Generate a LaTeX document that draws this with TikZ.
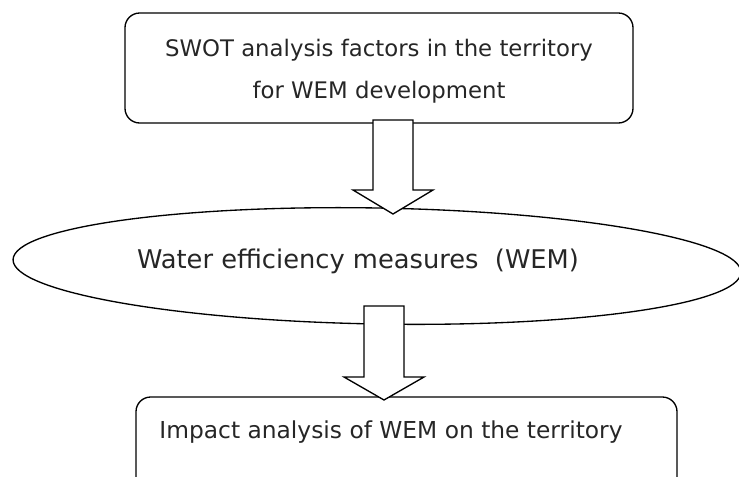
\documentclass[tikz,border=0pt]{standalone}
\usepackage{fontspec}
\setmainfont{DejaVu Sans}
\usetikzlibrary{shapes.geometric,calc}
\begin{document}
\begin{tikzpicture}[x=0.75pt,y=-0.75pt, line width=1pt,
  box/.style={draw, rounded corners=11pt, inner sep=0pt},
  blockarrow/.style={draw, fill=white, line join=miter},
  lbl/.style={text=black!85, align=center, inner sep=0pt}]
\clip (0,0) rectangle (739,476);
\node[box, minimum width=381pt, minimum height=82.5pt] (swot) at (379,68) {};
\node[lbl, font=\fontsize{17.1}{31.5}\selectfont] (swottext) at (379,71) {SWOT analysis factors in the territory\\for WEM development};
\node[draw, ellipse, minimum width=546pt, minimum height=87pt, rotate=-1, inner sep=0pt] (wem) at (377,266) {};
\node[lbl, font=\fontsize{19.3}{22}\selectfont] (wemtext) at (358,261) {Water efficiency measures\ \ (WEM)};
\node[box, minimum width=405.75pt, minimum height=84.75pt] (impact) at (406.5,453.5) {};
\node[lbl, font=\fontsize{17.5}{20}\selectfont] (impacttext) at (391,432) {Impact analysis of WEM on the territory};
\coordinate (a1top) at (393,120);
\coordinate (a1tip) at (393,214);
\coordinate (a2top) at (384,306);
\coordinate (a2tip) at (384,400);
\draw[blockarrow] ($(a1top)+(-20,0)$) -- ($(a1top)+(20,0)$) -- ($(a1tip)+(20,-24)$) -- ($(a1tip)+(40,-24)$) -- (a1tip) -- ($(a1tip)+(-40,-24)$) -- ($(a1tip)+(-20,-24)$) -- cycle;
\draw[blockarrow] ($(a2top)+(-20,0)$) -- ($(a2top)+(20,0)$) -- ($(a2tip)+(20,-23)$) -- ($(a2tip)+(40,-23)$) -- (a2tip) -- ($(a2tip)+(-40,-23)$) -- ($(a2tip)+(-20,-23)$) -- cycle;
\end{tikzpicture}
\end{document}
